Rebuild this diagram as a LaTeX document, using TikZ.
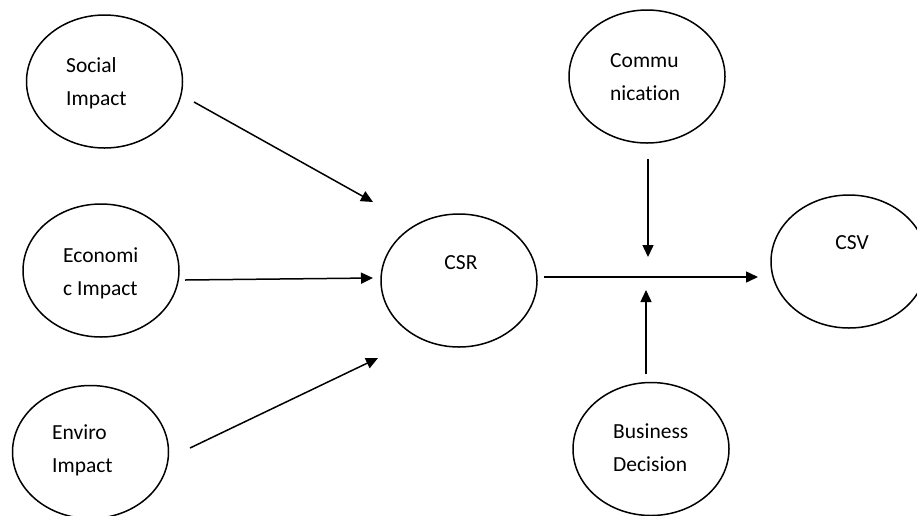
\documentclass[tikz,border=0pt]{standalone}
\usepackage{fontspec}
\setmainfont[Ligatures=NoCommon]{Carlito}
\usetikzlibrary{shapes.geometric,arrows.meta}
\begin{document}
\begin{tikzpicture}[x=1pt,y=-1pt,
  oval/.style={draw,ellipse,line width=1.5pt,minimum width=156pt,minimum height=133pt,inner sep=0pt},
  lbl/.style={inner sep=0pt,align=left,anchor=west,font=\fontsize{21.5}{33}\selectfont},
  arr/.style={line width=1.5pt,-{Triangle[length=12pt,width=11pt]}}]
\clip (0,0) rectangle (917,515);
\fill[white] (0,0) rectangle (917,515);
% ellipses
\node[oval] (soc) at (104.5,81.5) {};
\node[oval] (eco) at (101,270.5) {};
\node[oval] (env) at (90.5,452) {};
\node[oval] (csr) at (459,280.5) {};
\node[oval] (com) at (647,76.5) {};
\node[oval] (bus) at (651,449) {};
\node[oval] (csv) at (849,261.5) {};
% labels
\node[lbl] (tsoc) at (66,83) {Social\\Impact};
\node[lbl] (teco) at (63,273) {Economi\\c Impact};
\node[lbl] (tenv) at (52,450) {Enviro\\Impact};
\node[lbl] (tcom) at (610,77) {Commu\\nication};
\node[lbl] (tbus) at (613,448) {Business\\Decision};
\node[lbl,anchor=center] (tcsr) at (461,263) {CSR};
\node[lbl,anchor=center] (tcsv) at (852,243) {CSV};
% connector ends
\coordinate (s1) at (194,102); \coordinate (e1) at (373,202);
\coordinate (s2) at (185,280); \coordinate (e2) at (373,278);
\coordinate (s3) at (190,448); \coordinate (e3) at (378,358);
\coordinate (s4) at (544,277); \coordinate (e4) at (758,277);
\coordinate (s5) at (648,159); \coordinate (e5) at (648,257);
\coordinate (s6) at (646,374); \coordinate (e6) at (646,290);
\draw[arr] (s1) -- (e1);
\draw[arr] (s2) -- (e2);
\draw[arr] (s3) -- (e3);
\draw[arr] (s4) -- (e4);
\draw[arr] (s5) -- (e5);
\draw[arr] (s6) -- (e6);
\end{tikzpicture}
\end{document}
